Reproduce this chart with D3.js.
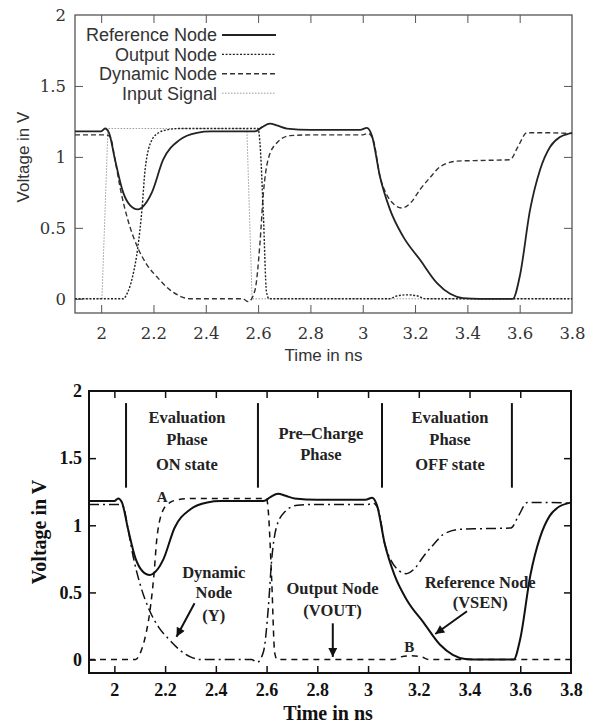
<!DOCTYPE html>
<html><head><meta charset="utf-8">
<script src="https://cdn.jsdelivr.net/npm/d3@7"></script>
<style>body{margin:0;background:#fff}svg{display:block}</style>
</head><body>
<script>
// ---------------- data ----------------
const xTicks = [2, 2.2, 2.4, 2.6, 2.8, 3, 3.2, 3.4, 3.6, 3.8];
const xTickLabels = ["2", "2.2", "2.4", "2.6", "2.8", "3", "3.2", "3.4", "3.6", "3.8"];
const yTicks = [0, 0.5, 1, 1.5, 2];
const yTickLabels = ["0", "0.5", "1", "1.5", "2"];

const seriesNames = ["Reference Node", "Output Node", "Dynamic Node", "Input Signal"];

// Reference Node (VSEN)
const refT = [1.90, 2.00, 2.015, 2.03, 2.053, 2.084, 2.11, 2.14, 2.165, 2.194, 2.237, 2.30, 2.366, 2.42, 2.50, 2.588, 2.615, 2.645, 2.675, 2.71, 2.80, 2.90, 2.99, 3.016, 3.035, 3.066, 3.104, 3.154, 3.219, 3.284, 3.334, 3.383, 3.45, 3.574, 3.60, 3.64, 3.678, 3.716, 3.754, 3.79, 3.80];
const refV = [1.18, 1.18, 1.20, 1.17, 0.98, 0.75, 0.66, 0.63, 0.66, 0.75, 0.98, 1.12, 1.17, 1.18, 1.18, 1.18, 1.21, 1.235, 1.22, 1.20, 1.19, 1.19, 1.19, 1.205, 1.15, 0.86, 0.63, 0.44, 0.275, 0.11, 0.035, 0.005, 0, 0, 0.155, 0.63, 0.91, 1.07, 1.14, 1.165, 1.17];

// Output Node (VOUT)
const outT = [1.90, 2.084, 2.10, 2.12, 2.14, 2.156, 2.168, 2.194, 2.22, 2.25, 2.30, 2.60, 2.607, 2.62, 2.632, 2.642, 2.70, 3.10, 3.13, 3.17, 3.21, 3.24, 3.80];
const outV = [0, 0, 0.04, 0.155, 0.36, 0.63, 0.91, 1.12, 1.17, 1.19, 1.20, 1.20, 1.10, 0.60, 0.05, 0, 0, 0, 0.02, 0.028, 0.02, 0, 0];

// Dynamic Node (Y)
const dynT = [1.90, 2.02, 2.035, 2.053, 2.075, 2.10, 2.14, 2.175, 2.213, 2.263, 2.30, 2.34, 2.40, 2.54, 2.563, 2.588, 2.607, 2.62, 2.638, 2.672, 2.722, 2.80, 3.00, 3.02, 3.04, 3.066, 3.09, 3.12, 3.15, 3.185, 3.219, 3.26, 3.295, 3.36, 3.45, 3.563, 3.593, 3.628, 3.70, 3.80];
const dynV = [1.155, 1.155, 1.14, 0.98, 0.76, 0.57, 0.36, 0.24, 0.155, 0.063, 0.02, 0.0, 0, 0, -0.02, 0.06, 0.39, 0.74, 0.98, 1.10, 1.15, 1.155, 1.155, 1.165, 1.12, 0.86, 0.74, 0.665, 0.64, 0.68, 0.77, 0.86, 0.93, 0.97, 0.975, 0.98, 1.07, 1.17, 1.17, 1.165];

// Input Signal
const inT = [1.90, 2.003, 2.026, 2.557, 2.577, 3.80];
const inV = [0, 0, 1.2, 1.2, 0, 0];

// bottom chart annotations (data units)
const phaseLineT = [2.046, 2.566, 3.055, 3.567];
const phaseLineV = [1.28, 1.91];
const phaseLabels = [
  {t: 2.286, lines: ["Evaluation", "Phase", "ON state"], v: [1.762, 1.597, 1.41]},
  {t: 2.814, lines: ["Pre\u2013Charge", "Phase"], v: [1.642, 1.486]},
  {t: 3.323, lines: ["Evaluation", "Phase", "OFF state"], v: [1.762, 1.597, 1.41]}
];
const nodeLabels = [
  {t: 2.392, lines: ["Dynamic", "Node", "(Y)"], v: [0.605, 0.456, 0.29]},
  {t: 2.860, lines: ["Output Node", "(VOUT)"], v: [0.485, 0.325]},
  {t: 3.442, lines: ["Reference Node", "(VSEN)"], v: [0.535, 0.385]}
];
const pointLabels = [{t: 2.188, v: 1.17, text: "A"}, {t: 3.162, v: 0.057, text: "B"}];
const arrows = [
  {t0: 2.316, v0: 0.42, t1: 2.245, v1: 0.17},
  {t0: 2.861, v0: 0.27, t1: 2.861, v1: 0.02},
  {t0: 3.390, v0: 0.36, t1: 3.265, v1: 0.19}
];

// ---------------- drawing ----------------
const svg = d3.select("body").append("svg").attr("width", 595).attr("height", 724);
const zip = (T, V) => T.map((t, i) => ({t, v: V[i]}));

function chart(o) {
  const x = d3.scaleLinear().domain([1.9, 3.8]).range([o.left, o.right]);
  const y = d3.scaleLinear().domain([-0.1, 2]).range([o.bottom, o.top]);
  const g = svg.append("g");

  const axB = g.append("g").attr("transform", `translate(0,${o.bottom})`)
    .call(d3.axisBottom(x).tickValues(xTicks).tickSize(-o.tick).tickPadding(o.xpad)
      .tickFormat((d, i) => xTickLabels[i]));
  const axT = g.append("g").attr("transform", `translate(0,${o.top})`)
    .call(d3.axisTop(x).tickValues(xTicks).tickSize(-o.tick).tickFormat(""));
  const axL = g.append("g").attr("transform", `translate(${o.left},0)`)
    .call(d3.axisLeft(y).tickValues(yTicks).tickSize(-o.tick).tickPadding(o.ypad)
      .tickFormat((d, i) => yTickLabels[i]));
  const axR = g.append("g").attr("transform", `translate(${o.right},0)`)
    .call(d3.axisRight(y).tickValues(yTicks.filter(d => d < 2 && d > 0)).tickSize(-o.tick).tickFormat(""));
  [axB, axT, axL, axR].forEach(a => {
    a.select(".domain").remove();
    a.selectAll(".tick line").attr("stroke", o.axisColor).attr("stroke-width", o.tickW);
    a.selectAll("text").attr("font-family", o.tickFont).attr("font-size", o.tickSize)
      .attr("font-weight", o.bold ? "bold" : "normal").attr("fill", o.textColor);
  });
  axB.selectAll(".tick").filter(d => d === 3.8).select("line").remove();
  axT.selectAll(".tick").filter(d => d === 3.8).select("line").remove();
  axL.selectAll(".tick").filter(d => d === 2).select("line").remove();

  g.append("rect").attr("x", o.left).attr("y", o.top)
    .attr("width", o.right - o.left).attr("height", o.bottom - o.top)
    .attr("fill", "none").attr("stroke", o.axisColor).attr("stroke-width", o.frameW);

  g.append("text").attr("x", (o.left + o.right) / 2 + o.xlabDx).attr("y", o.xlabY)
    .attr("text-anchor", "middle").attr("font-family", o.labFont).attr("font-size", o.labSize)
    .attr("font-weight", o.bold ? "bold" : "normal").attr("fill", o.textColor).text("Time in ns");
  g.append("text").attr("transform", `translate(${o.ylabX},${(o.top + o.bottom) / 2 + o.ylabDy}) rotate(-90)`)
    .attr("text-anchor", "middle").attr("font-family", o.labFont).attr("font-size", o.labSize)
    .attr("font-weight", o.bold ? "bold" : "normal").attr("fill", o.textColor).text("Voltage in V");

  const clipId = "clip" + o.id;
  svg.append("clipPath").attr("id", clipId).append("rect")
    .attr("x", o.left).attr("y", o.top).attr("width", o.right - o.left).attr("height", o.bottom - o.top);
  const lines = g.append("g").attr("clip-path", `url(#${clipId})`);
  o.series.forEach(s => {
    const line = d3.line().x(d => x(d.t)).y(d => y(d.v)).curve(s.linear ? d3.curveLinear : d3.curveMonotoneX);
    lines.append("path").datum(s.data).attr("d", line).attr("fill", "none")
      .attr("stroke", s.color).attr("stroke-width", s.width).attr("stroke-dasharray", s.dash || null)
      .attr("stroke-linejoin", "round");
  });
  return {x, y, g};
}

// ----- top chart -----
const topSeries = [
  {name: seriesNames[3], data: zip(inT, inV), color: "#9a9a9a", width: 1, dash: "1.5,1.5", linear: true},
  {name: seriesNames[2], data: zip(dynT, dynV), color: "#333", width: 1.4, dash: "5,3"},
  {name: seriesNames[1], data: zip(outT, outV), color: "#222", width: 1.4, dash: "2,1.6"},
  {name: seriesNames[0], data: zip(refT, refV), color: "#222", width: 1.8}
];
const topChart = chart({
  id: "t", left: 75, right: 572, top: 15, bottom: 313, tick: 8, xpad: 14, ypad: 9,
  axisColor: "#555", tickW: 1, frameW: 1.3, textColor: "#333",
  tickFont: "'DejaVu Serif', 'Liberation Serif', serif", tickSize: 16.5, bold: false,
  labFont: "'Liberation Sans', Arial, sans-serif", labSize: 17,
  xlabY: 361, xlabDx: 0, ylabX: 29, ylabDy: -7,
  series: topSeries
});
// legend
const legStyleFor = n => topSeries.find(s => s.name === n);
seriesNames.forEach((n, i) => {
  const yy = 35 + i * 19.4;
  const st = legStyleFor(n);
  topChart.g.append("text").attr("x", 217).attr("y", yy).attr("dy", "0.35em").attr("text-anchor", "end")
    .attr("font-family", "'Liberation Sans', Arial, sans-serif").attr("font-size", 18).attr("fill", "#333").text(n);
  topChart.g.append("line").attr("x1", 222).attr("x2", 276).attr("y1", yy).attr("y2", yy)
    .attr("stroke", st.color).attr("stroke-width", st.width).attr("stroke-dasharray", st.dash || null);
});

// ----- bottom chart -----
const botSeries = [
  {name: seriesNames[2], data: zip(dynT, dynV), color: "#111", width: 1.5, dash: "10,4,2,4"},
  {name: seriesNames[1], data: zip(outT, outV), color: "#111", width: 1.5, dash: "6,5"},
  {name: seriesNames[0], data: zip(refT, refV), color: "#111", width: 2}
];
const bot = chart({
  id: "b", left: 89, right: 571, top: 391, bottom: 673, tick: 7, xpad: 10, ypad: 7,
  axisColor: "#111", tickW: 1.5, frameW: 2, textColor: "#111",
  tickFont: "'Liberation Serif', 'Times New Roman', serif", tickSize: 18, bold: true,
  labFont: "'Liberation Serif', 'Times New Roman', serif", labSize: 20,
  xlabY: 720, xlabDx: -2, ylabX: 46, ylabDy: 0,
  series: botSeries
});
const bx = bot.x, by = bot.y, bg = bot.g;
const annFont = "'Liberation Serif', 'Times New Roman', serif";
phaseLineT.forEach(t => {
  bg.append("line").attr("x1", bx(t)).attr("x2", bx(t)).attr("y1", by(phaseLineV[0])).attr("y2", by(phaseLineV[1]))
    .attr("stroke", "#111").attr("stroke-width", 2);
});
[...phaseLabels, ...nodeLabels].forEach(l => {
  l.lines.forEach((s, i) => {
    bg.append("text").attr("x", bx(l.t)).attr("y", by(l.v[i])).attr("text-anchor", "middle")
      .attr("font-family", annFont).attr("font-size", 16.5).attr("font-weight", "bold").attr("fill", "#222").text(s);
  });
});
pointLabels.forEach(p => {
  bg.append("text").attr("x", bx(p.t)).attr("y", by(p.v)).attr("text-anchor", "middle")
    .attr("font-family", annFont).attr("font-size", 15).attr("font-weight", "bold").attr("fill", "#222").text(p.text);
});
svg.append("defs").append("marker").attr("id", "arr").attr("viewBox", "0 0 10 10")
  .attr("refX", 10).attr("refY", 5).attr("markerWidth", 12).attr("markerHeight", 9)
  .attr("markerUnits", "userSpaceOnUse").attr("orient", "auto")
  .append("path").attr("d", "M0,0 L10,5 L0,10 Z").attr("fill", "#111");
arrows.forEach(a => {
  bg.append("line").attr("x1", bx(a.t0)).attr("y1", by(a.v0)).attr("x2", bx(a.t1)).attr("y2", by(a.v1))
    .attr("stroke", "#111").attr("stroke-width", 2).attr("marker-end", "url(#arr)");
});
</script>
</body></html>
